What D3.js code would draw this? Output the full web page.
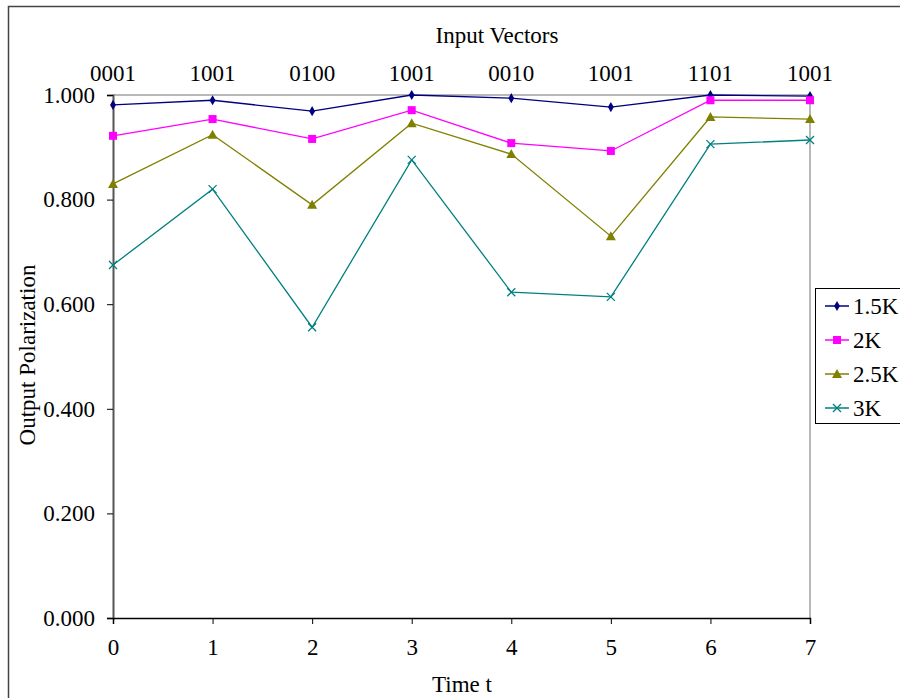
<!DOCTYPE html>
<html>
<head>
<meta charset="utf-8">
<script src="https://cdn.jsdelivr.net/npm/d3@7"></script>
<style>
  html, body { margin: 0; padding: 0; background: #fff; }
  svg text { font-family: "Liberation Serif", "Times New Roman", serif; fill: #000; }
</style>
</head>
<body>
<svg id="chart" width="900" height="698"></svg>
<script>
// Time steps and the input vector applied at each step
const timeSteps = [0, 1, 2, 3, 4, 5, 6, 7];
const inputVectors = ["0001", "1001", "0100", "1001", "0010", "1001", "1101", "1001"];
const yTicks = [0, 0.2, 0.4, 0.6, 0.8, 1.0];

// Output polarization per temperature
const seriesNames = ["1.5K", "2K", "2.5K", "3K"];
const pol15K = [0.981, 0.990, 0.969, 1.000, 0.994, 0.977, 1.000, 0.998];
const pol2K  = [0.922, 0.954, 0.916, 0.971, 0.908, 0.893, 0.990, 0.990];
const pol25K = [0.830, 0.924, 0.790, 0.946, 0.887, 0.730, 0.958, 0.954];
const pol3K  = [0.675, 0.820, 0.556, 0.876, 0.623, 0.614, 0.906, 0.914];

const seriesValues = [pol15K, pol2K, pol25K, pol3K];
const colors = ["#000080", "#ff00ff", "#808000", "#008080"];
const markers = ["diamond", "square", "triangle", "cross"];

const FS = 23;
const FONT = "Liberation Serif";
const svg = d3.select("#chart");

// outer frame
svg.append("rect").attr("x", 8.5).attr("y", 6.5).attr("width", 900).attr("height", 700)
  .attr("fill", "none").attr("stroke", "#444").attr("stroke-width", 1.5);

const plotL = 113, plotR = 810, plotT = 95, plotB = 618;
const x = d3.scaleLinear().domain([0, 7]).range([plotL, plotR]);
const y = d3.scaleLinear().domain([0, 1]).range([plotB, plotT]);

// plot frame: top and right in light gray
svg.append("line").attr("x1", plotL).attr("x2", plotR).attr("y1", plotT).attr("y2", plotT)
  .attr("stroke", "#a0a0a0").attr("stroke-width", 1.5);
svg.append("line").attr("x1", plotR).attr("x2", plotR).attr("y1", plotT).attr("y2", plotB)
  .attr("stroke", "#a0a0a0").attr("stroke-width", 1.5);

// y axis
const yAxis = svg.append("g").attr("transform", `translate(${plotL},0)`)
  .call(d3.axisLeft(y).tickValues(yTicks).tickFormat(d3.format(".3f")).tickSize(6).tickPadding(12));
yAxis.select(".domain").attr("stroke", "#555").attr("stroke-width", 2);
yAxis.selectAll(".tick line").attr("stroke", "#000");
yAxis.selectAll(".tick text").attr("font-size", FS).attr("font-family", FONT);

// x axis
const xAxis = svg.append("g").attr("transform", `translate(0,${plotB})`)
  .call(d3.axisBottom(x).tickValues(timeSteps).tickFormat(d3.format("d")).tickSize(6).tickPadding(15));
xAxis.select(".domain").attr("stroke", "#000").attr("stroke-width", 1.5);
xAxis.selectAll(".tick line").attr("stroke", "#000");
xAxis.selectAll(".tick text").attr("font-size", FS).attr("font-family", FONT);

// top labels: input vectors
svg.append("g").selectAll("text").data(inputVectors).join("text")
  .attr("x", (d, i) => x(timeSteps[i]))
  .attr("y", 81)
  .attr("text-anchor", "middle")
  .attr("font-size", FS)
  .text(d => d);

svg.append("text").attr("x", 497).attr("y", 43).attr("text-anchor", "middle")
  .attr("font-size", FS).text("Input Vectors");

svg.append("text").attr("x", 462).attr("y", 692).attr("text-anchor", "middle")
  .attr("font-size", FS).text("Time t");

svg.append("text").attr("transform", "translate(35,355) rotate(-90)")
  .attr("text-anchor", "middle").attr("font-size", FS).text("Output Polarization");

// marker drawing
function drawMarker(g, type, color) {
  if (type === "diamond") {
    g.append("path").attr("d", d3.symbol(d3.symbolDiamond, 30)()).attr("fill", color);
  } else if (type === "square") {
    g.append("rect").attr("x", -4).attr("y", -4).attr("width", 8).attr("height", 8).attr("fill", color);
  } else if (type === "triangle") {
    g.append("path").attr("d", "M0,-5L5,4L-5,4Z").attr("fill", color);
  } else {
    g.append("path").attr("d", "M-4,-4L4,4M-4,4L4,-4").attr("stroke", color).attr("stroke-width", 1.3).attr("fill", "none");
  }
}

const line = d3.line().x((d, i) => x(timeSteps[i])).y(d => y(d));

seriesValues.forEach((vals, si) => {
  const g = svg.append("g");
  g.append("path").datum(vals).attr("d", line)
    .attr("fill", "none").attr("stroke", colors[si]).attr("stroke-width", 1.3);
  vals.forEach((v, i) => {
    const m = g.append("g").attr("transform", `translate(${x(timeSteps[i])},${y(v)})`);
    drawMarker(m, markers[si], colors[si]);
  });
});

// legend
const legend = svg.append("g");
legend.append("rect").attr("x", 815.5).attr("y", 288.5).attr("width", 90).attr("height", 135)
  .attr("fill", "#fff").attr("stroke", "#000").attr("stroke-width", 1);
seriesNames.forEach((name, si) => {
  const cy = 306 + si * 34;
  legend.append("line").attr("x1", 825).attr("x2", 849).attr("y1", cy).attr("y2", cy)
    .attr("stroke", colors[si]).attr("stroke-width", 1.5);
  const m = legend.append("g").attr("transform", `translate(837,${cy})`);
  drawMarker(m, markers[si], colors[si]);
  legend.append("text").attr("x", 853).attr("y", cy + 8).attr("font-size", FS).text(name);
});
</script>
</body>
</html>
